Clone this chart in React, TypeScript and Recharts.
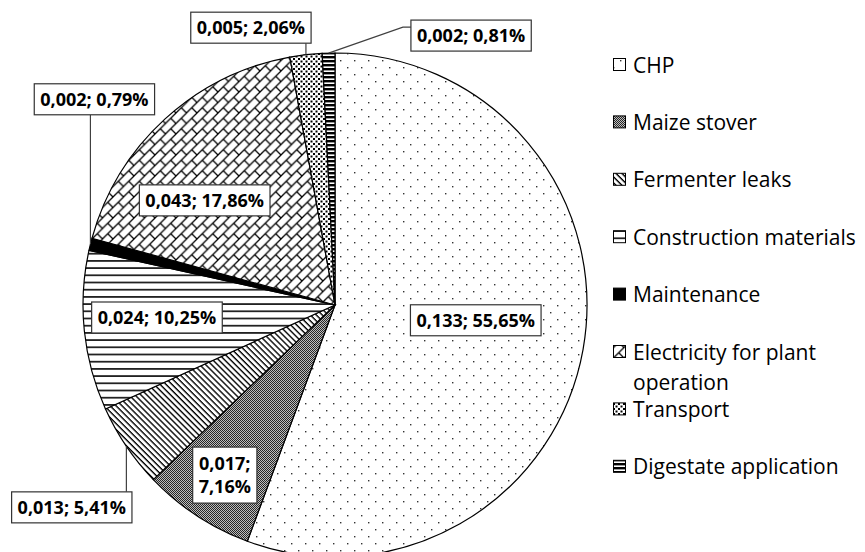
import React from 'react';
import { PieChart, Pie, Cell, Legend } from 'recharts';

const categories = [
  'CHP',
  'Maize stover',
  'Fermenter leaks',
  'Construction materials',
  'Maintenance',
  'Electricity for plant operation',
  'Transport',
  'Digestate application',
];
const values = [0.133, 0.017, 0.013, 0.024, 0.002, 0.043, 0.005, 0.002];
const percents = [55.65, 7.16, 5.41, 10.25, 0.79, 17.86, 2.06, 0.81];
const legendLines = [
  ['CHP'],
  ['Maize stover'],
  ['Fermenter leaks'],
  ['Construction materials'],
  ['Maintenance'],
  ['Electricity for plant', 'operation'],
  ['Transport'],
  ['Digestate application'],
];

const data = categories.map((name, i) => ({ name, value: percents[i], amount: values[i] }));

type Placement = {
  kind: 'inside' | 'outside';
  r?: number;
  dx: number;
  dy: number;
  split?: boolean;
  leader?: 'down' | 'up' | 'elbow';
};

const labelPlacement: Placement[] = [
  { kind: 'inside', r: 143, dx: 0, dy: -10 },
  { kind: 'inside', r: 201, dx: 0, dy: 2, split: true },
  { kind: 'outside', dx: -54.6, dy: 61, leader: 'down' },
  { kind: 'inside', r: 179, dx: 0, dy: -6 },
  { kind: 'outside', dx: 4, dy: -145, leader: 'up' },
  { kind: 'inside', r: 150, dx: -29, dy: 6 },
  { kind: 'outside', dx: -55, dy: -27, leader: 'up' },
  { kind: 'outside', dx: 142.5, dy: -17.5, leader: 'elbow' },
];

const FONT = "'Open Sans', 'Noto Sans', sans-serif";
const LABEL_SIZE = 18;
const RADIAN = Math.PI / 180;

let ctx: CanvasRenderingContext2D | null = null;
function measure(t: string): number {
  if (!ctx) ctx = document.createElement('canvas').getContext('2d');
  if (!ctx) return t.length * 9.5;
  ctx.font = `bold ${LABEL_SIZE}px ${FONT}`;
  return ctx.measureText(t).width;
}

const fmt = (v: number, d: number) => v.toFixed(d).replace('.', ',');

function Patterns({ p }: { p: string }) {
  return (
    <>
      <pattern id={`${p}0`} width="14" height="14" patternUnits="userSpaceOnUse">
        <rect width="14" height="14" fill="#fff" />
        <rect x="3" y="3" width="1.4" height="1.4" fill="#333" />
        <rect x="10" y="10" width="1.4" height="1.4" fill="#333" />
      </pattern>
      <pattern id={`${p}1`} width="2" height="2" patternUnits="userSpaceOnUse">
        <rect width="2" height="2" fill="#bdbdbd" />
        <rect width="1" height="1" fill="#262626" />
        <rect x="1" y="1" width="1" height="1" fill="#262626" />
      </pattern>
      <pattern id={`${p}2`} width="4.2" height="4.2" patternUnits="userSpaceOnUse" patternTransform="rotate(-45)">
        <rect width="4.2" height="4.2" fill="#fff" />
        <line x1="1" y1="0" x2="1" y2="4.2" stroke="#000" strokeWidth="1.4" />
      </pattern>
      <pattern id={`${p}3`} width="8" height="7.2" patternUnits="userSpaceOnUse">
        <rect width="8" height="7.2" fill="#fff" />
        <rect y="0" width="8" height="1.8" fill="#222" />
      </pattern>
      <pattern id={`${p}4`} width="4" height="4" patternUnits="userSpaceOnUse">
        <rect width="4" height="4" fill="#000" />
      </pattern>
      <pattern id={`${p}5`} width="10.5" height="10.5" patternUnits="userSpaceOnUse">
        <rect width="10.5" height="10.5" fill="#fff" />
        <path
          d="M0,10.5 L10.5,0 M5.25,5.25 L10.5,10.5 M-1,1 L1,-1 M9.5,11.5 L11.5,9.5"
          stroke="#000"
          strokeWidth="1.3"
          fill="none"
        />
      </pattern>
      <pattern id={`${p}6`} width="5" height="5" patternUnits="userSpaceOnUse">
        <rect width="5" height="5" fill="#fff" />
        <rect x="0" y="0" width="2" height="2" fill="#000" />
        <rect x="2.5" y="2.5" width="2" height="2" fill="#000" />
      </pattern>
      <pattern id={`${p}7`} width="8" height="4" patternUnits="userSpaceOnUse">
        <rect width="8" height="4" fill="#fff" />
        <rect y="0" width="8" height="2.4" fill="#000" />
      </pattern>
    </>
  );
}

const renderLabel = (props: any) => {
  const { cx, cy, midAngle, outerRadius, index } = props;
  const cfg = labelPlacement[index];
  const text = `${fmt(values[index], 3)}; ${fmt(percents[index], 2)}%`;
  const lines = cfg.split ? [`${fmt(values[index], 3)};`, `${fmt(percents[index], 2)}%`] : [text];
  const w = Math.max(...lines.map(measure)) + 12;
  const h = lines.length === 1 ? 31 : 56;
  const cos = Math.cos(-midAngle * RADIAN);
  const sin = Math.sin(-midAngle * RADIAN);
  let bx: number;
  let by: number;
  let leader: React.ReactNode = null;
  if (cfg.kind === 'inside') {
    const r = cfg.r ?? outerRadius * 0.6;
    bx = cx + r * cos + cfg.dx;
    by = cy + r * sin + cfg.dy;
  } else {
    const ax = cx + outerRadius * cos;
    const ay = cy + outerRadius * sin;
    bx = ax + cfg.dx;
    by = ay + cfg.dy;
    let pts = '';
    if (cfg.leader === 'down') pts = `${ax},${ay} ${ax},${by - h / 2}`;
    else if (cfg.leader === 'up') pts = `${ax},${ay} ${ax},${by + h / 2}`;
    else {
      const left = bx - w / 2;
      const ly = by - 8.5;
      pts = `${ax},${ay} ${left - 8},${ly} ${left},${ly}`;
    }
    leader = <polyline points={pts} fill="none" stroke="#404040" strokeWidth={1.2} />;
  }
  const lineH = 23;
  return (
    <g key={`lbl-${index}`}>
      {leader}
      <rect x={bx - w / 2} y={by - h / 2} width={w} height={h} fill="#fff" stroke="#333" strokeWidth={1.2} />
      {lines.map((l, j) => (
        <text
          key={j}
          x={bx}
          y={by + (j - (lines.length - 1) / 2) * lineH + 6.4}
          textAnchor="middle"
          fontFamily={FONT}
          fontWeight="bold"
          fontSize={LABEL_SIZE}
          fill="#000"
        >
          {l}
        </text>
      ))}
    </g>
  );
};

const renderLegend = () => (
  <svg width={258} height={470} style={{ display: 'block', overflow: 'visible' }}>
    <defs>
      <Patterns p="lg" />
    </defs>
    {legendLines.map((lines, i) => {
      const yc = 22 + i * 57.4;
      return (
        <g key={i}>
          <rect x={10.5} y={yc - 6.5} width={12} height={12} fill={`url(#lg${i})`} stroke="#000" strokeWidth={1} />
          <text x={30} y={yc + 7.5} fontFamily={FONT} fontSize={21} fill="#000">
            {lines.map((l, j) => (
              <tspan key={j} x={30} dy={j === 0 ? 0 : 30}>
                {l}
              </tspan>
            ))}
          </text>
        </g>
      );
    })}
  </svg>
);

export default function App() {
  return (
    <PieChart width={857} height={544} margin={{ top: 0, right: 0, bottom: 0, left: 0 }}>
      <defs>
        <Patterns p="pat" />
      </defs>
      <Pie
        data={data}
        dataKey="value"
        nameKey="name"
        cx={327}
        cy={297}
        outerRadius={252}
        startAngle={90}
        endAngle={-270}
        stroke="#000"
        strokeWidth={1.2}
        label={renderLabel}
        labelLine={false}
        isAnimationActive={false}
      >
        {data.map((d, i) => (
          <Cell key={d.name} fill={`url(#pat${i})`} />
        ))}
      </Pie>
      <Legend
        layout="vertical"
        align="right"
        verticalAlign="top"
        content={renderLegend}
        wrapperStyle={{ position: 'absolute', left: 595, top: 35, width: 258, height: 470 }}
      />
    </PieChart>
  );
}
